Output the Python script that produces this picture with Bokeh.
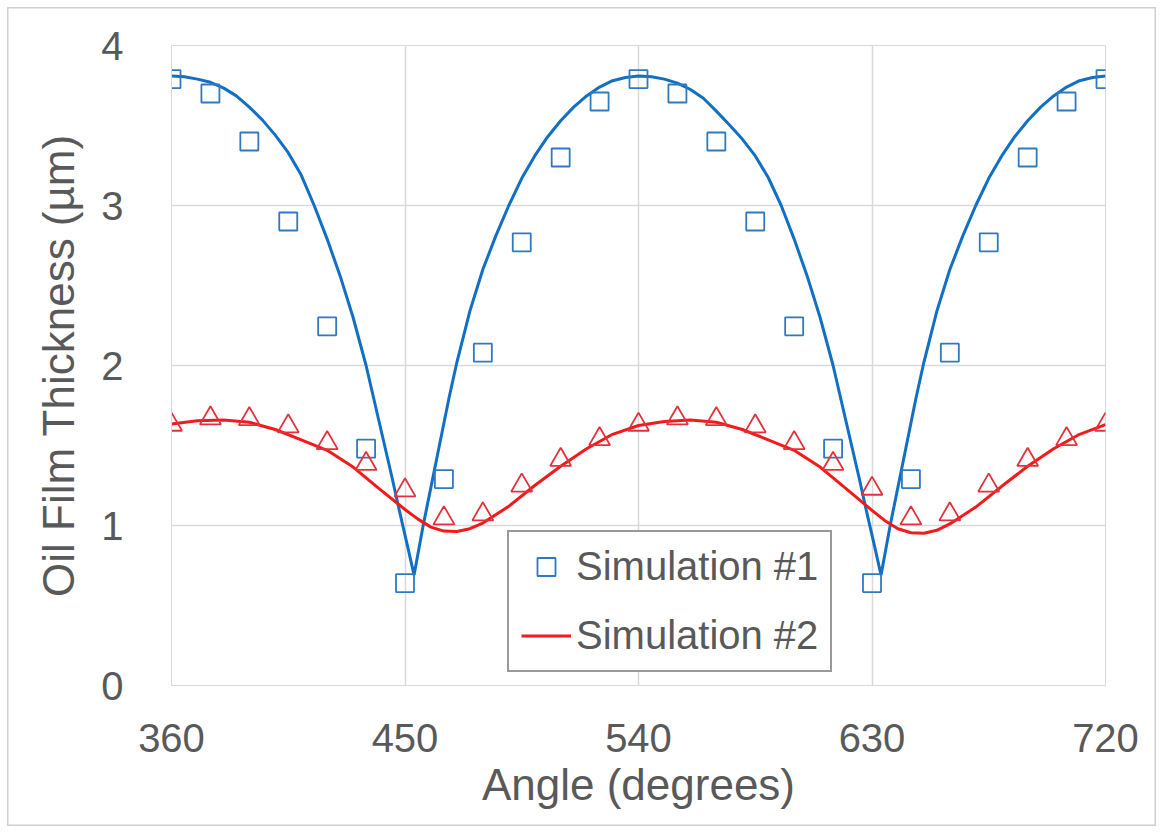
from bokeh.embed import file_html
from bokeh.models import FixedTicker, Legend, LegendItem, Range1d
from bokeh.plotting import figure
from bokeh.resources import INLINE

# marker data, every 15 degrees
angle_pts = [360, 375, 390, 405, 420, 435, 450, 465, 480, 495, 510, 525, 540,
             555, 570, 585, 600, 615, 630, 645, 660, 675, 690, 705, 720]
sim1_pts = [3.79, 3.70, 3.40, 2.90, 2.245, 1.48, 0.64, 1.29, 2.08, 2.77, 3.30, 3.65, 3.79,
            3.70, 3.40, 2.90, 2.245, 1.48, 0.64, 1.29, 2.08, 2.77, 3.30, 3.65, 3.79]
sim2_pts = [1.63, 1.67, 1.665, 1.62, 1.515, 1.385, 1.22, 1.045, 1.07, 1.25, 1.41, 1.54, 1.63,
            1.67, 1.665, 1.62, 1.515, 1.385, 1.23, 1.045, 1.07, 1.25, 1.41, 1.54, 1.63]

# smooth curves
sim1_angle = [360, 365, 370, 375, 380, 385, 390, 395, 400, 405, 410, 415, 420, 425, 430, 435,
              440, 445, 448, 451, 453.5, 457, 460, 463, 467, 470, 475, 480, 485, 490, 495,
              500, 505, 510, 515, 520, 525, 530, 535,
              540, 545, 550, 555, 560, 565, 570, 575, 580, 585, 590, 595, 600, 605, 610, 615,
              620, 625, 628, 631, 633.5, 637, 640, 643, 647, 650, 655, 660, 665, 670, 675,
              680, 685, 690, 695, 700, 705, 710, 715, 720]
sim1_line = [3.81, 3.805, 3.79, 3.77, 3.735, 3.685, 3.615, 3.535, 3.44, 3.33, 3.19, 3.00, 2.79,
             2.56, 2.30, 2.00, 1.65, 1.30, 1.08, 0.87, 0.69, 1.00, 1.24, 1.48, 1.80, 2.02,
             2.34, 2.60, 2.81, 3.00, 3.17, 3.31, 3.43, 3.53, 3.615, 3.685, 3.74, 3.78, 3.80,
             3.81, 3.805, 3.79, 3.765, 3.725, 3.67, 3.59, 3.505, 3.415, 3.31, 3.175, 3.00, 2.79,
             2.56, 2.30, 2.00, 1.65, 1.30, 1.08, 0.87, 0.69, 1.00, 1.24, 1.48, 1.80, 2.02,
             2.34, 2.60, 2.81, 3.00, 3.17, 3.31, 3.43, 3.53, 3.615, 3.685, 3.74, 3.78, 3.80,
             3.81]

sim2_angle = [360, 370, 380, 390, 400, 410, 420, 430, 440, 450, 455, 460, 465, 470, 475, 480,
              490, 500, 510, 520, 530,
              540, 550, 560, 570, 580, 590, 600, 610, 620, 630, 635, 640, 645, 650, 655, 660,
              670, 680, 690, 700, 710, 720]
sim2_line = [1.635, 1.655, 1.66, 1.645, 1.60, 1.535, 1.47, 1.365, 1.23, 1.10, 1.04, 0.99,
             0.965, 0.962, 0.98, 1.015, 1.12, 1.25, 1.37, 1.48, 1.57,
             1.625, 1.65, 1.66, 1.645, 1.60, 1.535, 1.47, 1.365, 1.23, 1.095, 1.03, 0.98,
             0.955, 0.952, 0.97, 1.01, 1.115, 1.245, 1.37, 1.48, 1.57, 1.63]

x_ticks = [360, 450, 540, 630, 720]
y_ticks = [0, 1, 2, 3, 4]

grey_text = "#595959"
grid_col = "#d9d9d9"
font = "Liberation Sans"

p = figure(width=1163, height=833, output_backend="svg", toolbar_location=None,
           x_range=Range1d(360, 720), y_range=Range1d(0, 4),
           min_border_left=171, min_border_right=58, min_border_top=45, min_border_bottom=148,
           x_axis_label="Angle (degrees)", y_axis_label="Oil Film Thickness (µm)")
p.background_fill_color = "white"
# transparent border area so the inset CSS frame of the host shows through
p.border_fill_color = None
p.styles = {"background-color": "white",
            "box-shadow": "inset 0 0 0 7px white, inset 0 0 0 8.5px #d0d0d0"}
p.outline_line_color = grid_col

p.xaxis.ticker = FixedTicker(ticks=x_ticks)
p.yaxis.ticker = FixedTicker(ticks=y_ticks)
for ax in (p.xaxis, p.yaxis):
    ax.axis_line_color = grid_col
    ax.major_tick_line_color = None
    ax.minor_tick_line_color = None
    ax.major_label_text_font = font
    ax.major_label_text_font_size = "40px"
    ax.major_label_text_color = grey_text
    ax.axis_label_text_font = font
    ax.axis_label_text_font_size = "44px"
    ax.axis_label_text_font_style = "normal"
    ax.axis_label_text_color = grey_text
p.xaxis.major_label_standoff = 32
p.xaxis.axis_label_standoff = 5
p.yaxis.major_label_standoff = 42
p.yaxis.axis_label_standoff = 15

p.xgrid.grid_line_color = grid_col
p.ygrid.grid_line_color = grid_col
p.xgrid.grid_line_width = 1.5
p.ygrid.grid_line_width = 1.5

blue_line = p.line(sim1_angle, sim1_line, line_color="#1170c4", line_width=3)
red_line = p.line(sim2_angle, sim2_line, line_color="#f21a1a", line_width=3)
squares = p.scatter(angle_pts, sim1_pts, marker="square", size=18, fill_color=None,
                    line_color="#3079c0", line_width=1.8)
tris = p.scatter(angle_pts, sim2_pts, marker="triangle", size=21, fill_color=None,
                 line_color="#e3323c", line_width=1.8)

legend = Legend(items=[LegendItem(label="Simulation #1", renderers=[squares]),
                       LegendItem(label="Simulation #2", renderers=[red_line])],
                location=(336, 13))
legend.label_text_font = font
legend.label_text_font_size = "40px"
legend.label_text_color = grey_text
legend.glyph_width = 50
legend.glyph_height = 45
legend.label_height = 45
legend.spacing = 24
legend.padding = 12
legend.margin = 0
legend.label_standoff = 5
legend.border_line_color = "#333333"
legend.border_line_width = 2
legend.background_fill_color = "white"
legend.background_fill_alpha = 1.0
p.add_layout(legend)

open("out.html", "w").write(file_html(p, INLINE))
